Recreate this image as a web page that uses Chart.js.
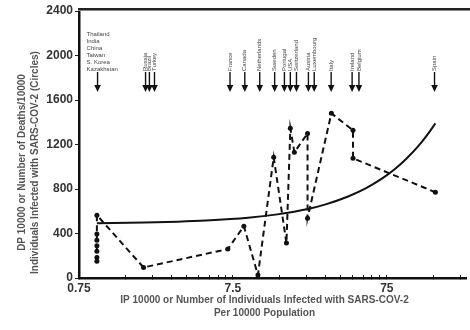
<!DOCTYPE html>
<html><head><meta charset="utf-8">
<script src="https://cdn.jsdelivr.net/npm/chart.js@4/dist/chart.umd.min.js"></script>
<style>html,body{margin:0;padding:0;background:#fff}canvas{display:block}</style>
</head><body>
<canvas id="c" width="470" height="330" style="width:470px;height:330px"></canvas>
<script>
// ---- data ----
const ipValues = [0.98, 0.98, 0.98, 0.98, 0.98, 0.98, 0.98, 1.97, 6.95, 8.83, 10.9, 13.8, 16.7, 17.7, 18.8, 22.9, 22.9, 32.7, 45.2, 45.2, 155];
const dpValues = [150, 185, 240, 290, 340, 395, 565, 95, 260, 466, 27, 1085, 314, 1345, 1130, 1300, 538, 1480, 1328, 1076, 771];
const fitIP = [0.98, 2, 3.3, 5, 9.4, 14.6, 23, 30, 42, 55, 70, 85, 100, 120, 140, 155];
const fitDP = [493, 499, 506, 516, 541, 572, 620, 662, 733, 808, 895, 982, 1070, 1185, 1302, 1390];
const xMajorTicks = [0.75, 7.5, 75];
const xMinorTicks = [1.5, 2.25, 3, 3.75, 4.5, 5.25, 6, 6.75, 15, 22.5, 30, 37.5, 45, 52.5, 60, 67.5, 150, 225];
const yTicks = [0, 400, 800, 1200, 1600, 2000, 2400];
const arrowIP = [0.99, 2.03, 2.15, 2.32, 7.18, 8.96, 11.2, 14.0, 16.2, 17.7, 19.4, 23.2, 25.3, 32.6, 44.6, 49.4, 153];
const arrowLabels = ["", "Russia", "Brazil", "Turkey", "France", "Canada", "Netherlands", "Sweden", "Portugal", "USA", "Switzerland", "Austria", "Luxembourg", "Italy", "Ireland", "Belgium", "Spain"];
const leftBlockLabels = ["Thailand", "India", "China", "Taiwan", "S. Korea", "Kazakhstan"];
const xTitle = ["IP 10000 or Number of Individuals Infected with SARS-COV-2", "Per 10000 Population"];
const yTitle = ["DP 10000 or Number of Deaths/10000", "Individuals Infected with SARS-COV-2 (Circles)"];

const FONT = "'Liberation Sans', Arial, sans-serif";

const decor = {
  id: 'decor',
  beforeDraw(chart) {
    const ctx = chart.ctx;
    ctx.save(); ctx.fillStyle = '#fff'; ctx.fillRect(0, 0, chart.width, chart.height); ctx.restore();
  },
  afterDraw(chart) {
    const { ctx, chartArea: a, scales: { x } } = chart;
    ctx.save();
    // top frame line
    ctx.fillStyle = '#222';
    ctx.fillRect(a.left - 1, a.top - 3, chart.width - a.left + 1, 2);
    ctx.fillStyle = '#888';
    ctx.fillRect(a.left - 1, a.top - 1, chart.width - a.left + 1, 1);
    // arrows
    const tipY = a.top + 81, startY = a.top + 61;
    ctx.strokeStyle = '#111'; ctx.fillStyle = '#111'; ctx.lineWidth = 1.4;
    arrowIP.forEach((v, i) => {
      const px = x.getPixelForValue(v);
      ctx.beginPath(); ctx.moveTo(px, startY); ctx.lineTo(px, tipY - 6); ctx.stroke();
      ctx.beginPath(); ctx.moveTo(px - 3.3, tipY - 7); ctx.lineTo(px + 3.3, tipY - 7); ctx.lineTo(px, tipY); ctx.closePath(); ctx.fill();
      if (arrowLabels[i]) {
        ctx.save();
        ctx.translate(px, startY - 1);
        ctx.rotate(-Math.PI / 2);
        ctx.fillStyle = '#444';
        ctx.font = `6px ${FONT}`;
        ctx.textAlign = 'left'; ctx.textBaseline = 'middle';
        ctx.fillText(arrowLabels[i], 0, 0);
        ctx.restore();
      }
    });
    // left block of labels
    ctx.fillStyle = '#444'; ctx.font = `6px ${FONT}`; ctx.textAlign = 'left'; ctx.textBaseline = 'middle';
    const bx = x.getPixelForValue(arrowIP[0]) - 11;
    leftBlockLabels.forEach((t, i) => ctx.fillText(t, bx, a.top + 23 + i * 7));
    // axis titles
    ctx.fillStyle = '#555';
    ctx.font = `bold 10px ${FONT}`;
    ctx.textAlign = 'center'; ctx.textBaseline = 'middle';
    const cx = (a.left + a.right) / 2 - 8;
    ctx.fillText(xTitle[0], cx, a.bottom + 22);
    ctx.fillText(xTitle[1], cx, a.bottom + 35);
    const cy = (a.top + a.bottom) / 2 + 18;
    yTitle.forEach((t, i) => {
      ctx.save();
      ctx.translate(22 + i * 13, cy);
      ctx.rotate(-Math.PI / 2);
      ctx.fillText(t, 0, 0);
      ctx.restore();
    });
    ctx.restore();
  }
};

new Chart(document.getElementById('c'), {
  type: 'scatter',
  data: {
    datasets: [
      {
        data: ipValues.map((v, i) => ({ x: v, y: dpValues[i] })),
        showLine: true,
        borderColor: '#111', borderWidth: 2, borderDash: [6, 4],
        pointRadius: 2.5, pointBackgroundColor: '#111', pointBorderColor: '#111', pointBorderWidth: 0,
        clip: false
      },
      {
        data: fitIP.map((v, i) => ({ x: v, y: fitDP[i] })),
        showLine: true,
        borderColor: '#111', borderWidth: 2,
        pointRadius: 0, cubicInterpolationMode: 'monotone',
        clip: false
      }
    ]
  },
  options: {
    responsive: false, animation: false,
    devicePixelRatio: 1,
    layout: { padding: { top: 11, left: 0, right: 0, bottom: 0 } },
    plugins: { legend: { display: false }, tooltip: { enabled: false } },
    scales: {
      x: {
        type: 'logarithmic', min: 0.75, max: 245,
        border: { color: '#111', width: 2.5 },
        grid: { drawOnChartArea: false, drawTicks: true, tickLength: -3, color: '#222', lineWidth: 1 },
        afterBuildTicks: s => {
          s.ticks = [...xMajorTicks, ...xMinorTicks].sort((p, q) => p - q).map(v => ({ value: v }));
        },
        ticks: {
          autoSkip: false, maxRotation: 0, padding: 6, color: '#333',
          font: { family: FONT, size: 12, weight: 'bold' },
          callback: v => xMajorTicks.includes(v) ? String(v) : ''
        },
        afterFit: s => { s.height = 52; }
      },
      y: {
        min: 0, max: 2400,
        border: { color: '#111', width: 2.5 },
        grid: { drawOnChartArea: false, drawTicks: true, tickLength: 4, color: '#222' },
        afterBuildTicks: s => { s.ticks = yTicks.map(v => ({ value: v })); },
        ticks: { padding: 2, color: '#333', font: { family: FONT, size: 12, weight: 'bold' }, callback: v => String(v) },
        afterFit: s => { s.width = 79; }
      }
    }
  },
  plugins: [decor]
});
</script>
</body></html>
